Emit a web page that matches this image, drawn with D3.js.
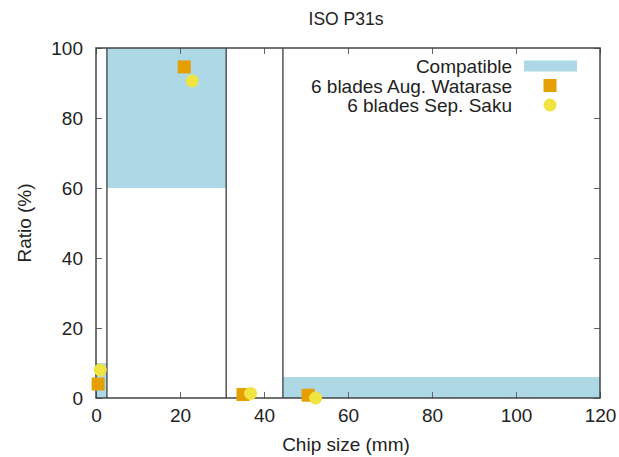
<!DOCTYPE html>
<html>
<head>
<meta charset="utf-8">
<script src="https://cdn.jsdelivr.net/npm/d3@7"></script>
<style>
  body { margin: 0; background: #fff; }
  svg { font-family: "Liberation Sans", Arial, sans-serif; }
</style>
</head>
<body>
<svg id="chart" width="619" height="457"></svg>
<script>
// Compatible regions (x from..to, ratio from..to)
const compatX0 = [0, 2.6, 44.5];
const compatX1 = [2.6, 31, 120];
const compatY0 = [0, 60, 0];
const compatY1 = [10, 100, 6];
// Full-height boundary lines
const boundaries = [2.6, 31, 44.5];

// 6 blades Aug. Watarase
const watX = [0.5, 21, 35, 50.5];
const watY = [4, 94.6, 1, 0.8];
// 6 blades Sep. Saku
const sakuX = [1, 22.9, 36.8, 52.3];
const sakuY = [8, 90.6, 1.3, 0];

const xTicks = [0, 20, 40, 60, 80, 100, 120];
const yTicks = [0, 20, 40, 60, 80, 100];

const margin = { left: 96, right: 19, top: 48, bottom: 59 };
const W = 619, H = 457;
const fs = 19;
const svg = d3.select("#chart");

const x = d3.scaleLinear().domain([0, 120]).range([margin.left, W - margin.right]);
const y = d3.scaleLinear().domain([0, 100]).range([H - margin.bottom, margin.top]);

const blue = "#add8e6", orange = "#e69f00", yellow = "#f0e442";

// compatible areas
svg.append("g").selectAll("rect")
  .data(compatX0.map((d, i) => i))
  .join("rect")
  .attr("x", i => x(compatX0[i]))
  .attr("y", i => y(compatY1[i]))
  .attr("width", i => x(compatX1[i]) - x(compatX0[i]))
  .attr("height", i => y(compatY0[i]) - y(compatY1[i]))
  .attr("fill", blue);

// boundary lines
svg.append("g").selectAll("line")
  .data(boundaries)
  .join("line")
  .attr("x1", d => x(d)).attr("x2", d => x(d))
  .attr("y1", y(0)).attr("y2", y(100))
  .attr("stroke", "#555").attr("stroke-width", 1.5);

// axes (ticks inward, mirrored)
const tickLen = 6;
const xAxis = svg.append("g").attr("transform", `translate(0,${y(0)})`)
  .call(d3.axisBottom(x).tickValues(xTicks).tickSize(-tickLen).tickPadding(11));
const xAxisTop = svg.append("g").attr("transform", `translate(0,${y(100)})`)
  .call(d3.axisTop(x).tickValues(xTicks).tickSize(-tickLen).tickFormat(""));
const yAxis = svg.append("g").attr("transform", `translate(${x(0)},0)`)
  .call(d3.axisLeft(y).tickValues(yTicks).tickSize(-tickLen).tickPadding(13));
const yAxisRight = svg.append("g").attr("transform", `translate(${x(120)},0)`)
  .call(d3.axisRight(y).tickValues(yTicks).tickSize(-tickLen).tickFormat(""));

[xAxis, xAxisTop, yAxis, yAxisRight].forEach(g => {
  g.select(".domain").remove();
  g.selectAll(".tick line").attr("stroke", "#666").attr("stroke-width", 1);
  g.selectAll("text").attr("font-size", fs).attr("fill", "#222")
    .attr("font-family", "Liberation Sans, Arial, sans-serif");
});

// frame
svg.append("rect")
  .attr("x", x(0)).attr("y", y(100))
  .attr("width", x(120) - x(0)).attr("height", y(0) - y(100))
  .attr("fill", "none").attr("stroke", "#444").attr("stroke-width", 1.5);

// points
const sq = 13;
svg.append("g").selectAll("rect")
  .data(watX.map((d, i) => i))
  .join("rect")
  .attr("x", i => x(watX[i]) - sq / 2)
  .attr("y", i => y(watY[i]) - sq / 2)
  .attr("width", sq).attr("height", sq)
  .attr("fill", orange);

svg.append("g").selectAll("circle")
  .data(sakuX.map((d, i) => i))
  .join("circle")
  .attr("cx", i => x(sakuX[i]))
  .attr("cy", i => y(sakuY[i]))
  .attr("r", 6.5)
  .attr("fill", yellow);

// title & labels
svg.append("text").attr("x", 346).attr("y", 25).attr("text-anchor", "middle")
  .attr("font-size", 17.5).attr("fill", "#222").text("ISO P31s");
svg.append("text").attr("x", 346).attr("y", 451).attr("text-anchor", "middle")
  .attr("font-size", fs).attr("fill", "#222").text("Chip size (mm)");
svg.append("text").attr("transform", "translate(31,223) rotate(-90)")
  .attr("text-anchor", "middle").attr("font-size", fs).attr("fill", "#222")
  .text("Ratio (%)");

// legend
const legendItems = [
  { label: "Compatible", type: "box", color: blue },
  { label: "6 blades Aug. Watarase", type: "square", color: orange },
  { label: "6 blades Sep. Saku", type: "circle", color: yellow }
];
const leg = svg.append("g");
legendItems.forEach((d, i) => {
  const ly = 66 + i * 19.5;
  leg.append("text").attr("x", 512).attr("y", ly + 7).attr("text-anchor", "end")
    .attr("font-size", fs).attr("fill", "#222").text(d.label);
  if (d.type === "box") {
    leg.append("rect").attr("x", 524).attr("y", ly - 5.5).attr("width", 53).attr("height", 11)
      .attr("fill", d.color);
  } else if (d.type === "square") {
    leg.append("rect").attr("x", 550 - sq / 2).attr("y", ly - sq / 2)
      .attr("width", sq).attr("height", sq).attr("fill", d.color);
  } else {
    leg.append("circle").attr("cx", 550).attr("cy", ly).attr("r", 6.5).attr("fill", d.color);
  }
});
</script>
</body>
</html>
